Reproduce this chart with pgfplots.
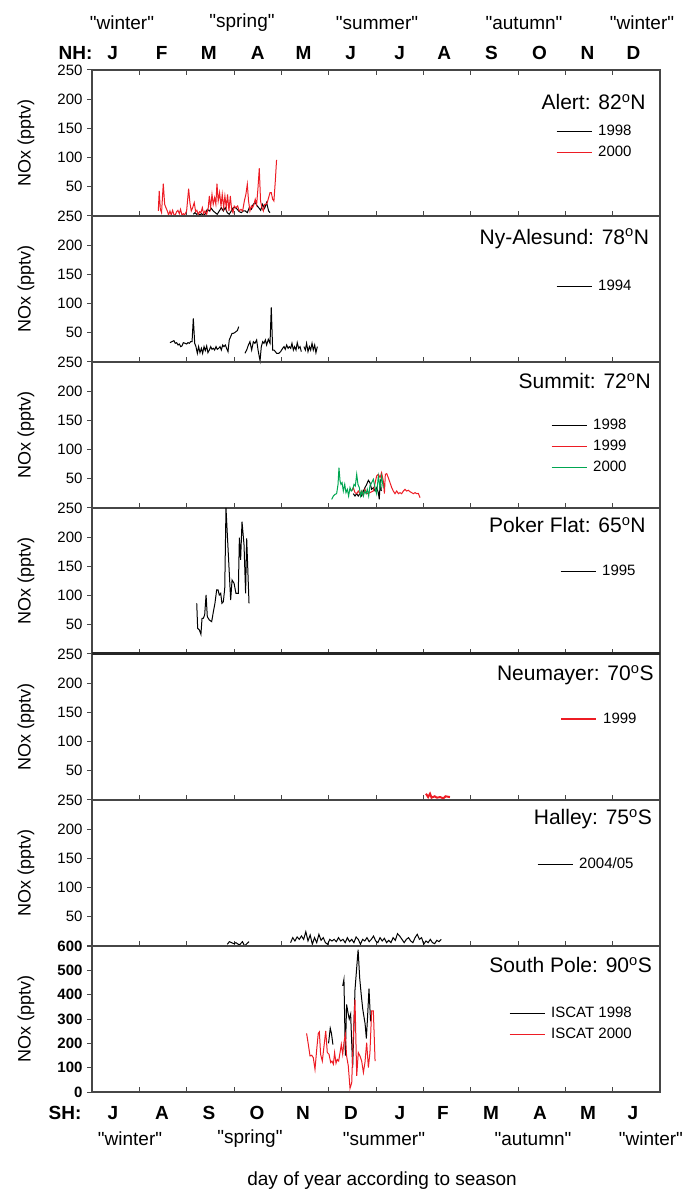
\documentclass[border=0pt]{standalone}
\usepackage{pgfplots}
\pgfplotsset{compat=1.18}
\usepackage{fontspec}
\setmainfont{Liberation Sans}
\definecolor{dred}{RGB}{237,28,36}
\definecolor{dgreen}{RGB}{0,166,81}
\definecolor{frame}{RGB}{70,70,70}
\newcommand{\fs}[1]{\fontsize{#1}{#1}\selectfont}
\newcommand{\q}[1]{\textquotedbl#1\textquotedbl}
\pgfplotsset{
  panel/.style={
    scale only axis, width=568pt, height=146pt,
    xmin=0, xmax=365, ymin=0, ymax=250,
    xtick={30.42,60.83,91.25,121.67,152.08,182.5,212.92,243.33,273.75,304.17,334.58},
    xticklabels={},
    xtick pos=left, ytick pos=left,
    ytick={0,50,100,150,200,250},
    yticklabels={,50,100,150,200,250},
    tick align=inside,
    major tick length=5pt,
    ytick style={xshift=-5pt},
    tick style={frame, line width=1pt},
    axis line style={frame, line width=1.1pt},
    yticklabel style={font=\fs{15}, xshift=-6pt},
    /pgf/number format/assume math mode=true,
    clip=false,
    every axis plot/.append style={line width=1pt},
    legend style={draw=none, fill=none, inner sep=0pt, font=\fs{15}, anchor=north west,
      row sep=5pt, nodes={inner sep=1pt, text height=11pt, text depth=3pt},
      /tikz/every odd column/.append style={column sep=5pt}},
    legend image code/.code={\draw[#1] (0pt,0pt) -- (35pt,0pt);},
    legend cell align=left,
    ylabel={NOx (pptv)},
    ylabel style={at={([xshift=-66pt]rel axis cs:0,0.5)}, anchor=center, font=\fs{18}},
  }
}
\begin{document}
\begin{tikzpicture}
\useasboundingbox (0pt,0pt) rectangle (683pt,1189pt);

% ---------------- Alert
\begin{axis}[panel, at={(92pt,973pt)}, xtick pos=both,
  legend style={at={(rel axis cs:0.8169,0.635)}}]
\addplot[black] coordinates {
(65.1,2.9)(66.2,5.7)(67.2,2.9)(68.3,4)(69.4,1.7)(70.4,4)(71.5,1.7)(72.6,2.9)(74.1,11.4)(75.4,8.6)
(76.7,13.1)(77.9,8.6)(79.2,5.7)(80.5,2.9)(81.8,8.6)(83.1,14.3)(84.4,8.6)(85.6,14.3)(86.9,5.7)(88.2,2.9)
(89.5,8.6)(90.8,14.3)(92.1,14.3)(93.4,11.4)(94.6,7.4)(95.9,5.7)(97.2,8.6)(98.5,8.6)(99.8,5.7)(101.1,14.3)
(102.4,11.4)(103.6,20)(104.9,22.8)(106.2,17.1)(107.1,14.3)(108.4,9.7)(109.6,20)(110.9,13.1)(112.2,22.8)(113.5,8.6)(114.4,5.7)};
\addlegendentry{1998}
\addplot[dred] coordinates {
(42.6,8.6)(43.2,42.8)(43.9,11.4)(44.7,5.7)(45.8,55.4)(46.7,20)(47.5,14.3)(48.4,8.6)(49.2,1.7)(50.1,8.6)
(50.9,1.7)(51.8,9.7)(52.7,1.7)(53.5,1.7)(54.4,7.4)(55.2,9.7)(56.1,4)(56.9,11.4)(57.8,1.7)(58.7,4)
(59.5,1.7)(60.8,8.6)(62.1,46.8)(62.9,22.8)(63.8,8.6)(64.7,14.3)(65.7,22.8)(66.6,7.4)(67.4,9.7)(68.3,2.9)
(69.2,7.4)(70.0,5.7)(70.9,14.3)(71.7,4)(72.6,8.6)(73.7,2.9)(74.7,14.3)(75.4,34.3)(76.2,14.3)(77.1,37.1)
(77.9,20)(78.8,31.4)(79.6,20)(80.3,55.4)(81.1,25.7)(82.0,40)(82.9,17.1)(83.7,37.1)(84.6,14.3)(85.4,34.3)
(86.3,14.3)(87.1,37.1)(88.0,8.6)(88.9,34.3)(89.7,11.4)(90.6,5.7)(91.4,17.1)(92.5,14.3)(93.6,17.1)(94.6,8.6)
(95.7,11.4)(96.8,8.6)(97.9,25.7)(98.9,37.1)(99.8,54.3)(100.6,25.7)(101.5,8.6)(102.4,17.1)(103.2,14.3)(104.1,20)
(104.9,28.6)(105.8,20)(106.6,45.7)(107.5,81.7)(108.3,25.7)(109.2,14.3)(110.1,8.6)(110.9,20)(111.8,20)(112.6,22.8)
(113.5,31.4)(114.4,40)(115.2,40)(116.1,28.6)(116.9,25.7)(117.8,60)(118.6,96)};
\addlegendentry{2000}
\node[anchor=mid east, inner sep=0pt, font=\fs{21}] at (rel axis cs:0.975,0.747) {Alert: 82\textsuperscript{o}N};
% top labels
\node[font=\bfseries\fs{19}] at ([yshift=17pt]rel axis cs:-0.029,1) {NH:};
\node[font=\bfseries\fs{19}] at ([yshift=17pt]rel axis cs:0.0364,1) {J};
\node[font=\bfseries\fs{19}] at ([yshift=17pt]rel axis cs:0.1225,1) {F};
\node[font=\bfseries\fs{19}] at ([yshift=17pt]rel axis cs:0.2056,1) {M};
\node[font=\bfseries\fs{19}] at ([yshift=17pt]rel axis cs:0.2919,1) {A};
\node[font=\bfseries\fs{19}] at ([yshift=17pt]rel axis cs:0.3725,1) {M};
\node[font=\bfseries\fs{19}] at ([yshift=17pt]rel axis cs:0.4556,1) {J};
\node[font=\bfseries\fs{19}] at ([yshift=17pt]rel axis cs:0.5417,1) {J};
\node[font=\bfseries\fs{19}] at ([yshift=17pt]rel axis cs:0.6202,1) {A};
\node[font=\bfseries\fs{19}] at ([yshift=17pt]rel axis cs:0.7033,1) {S};
\node[font=\bfseries\fs{19}] at ([yshift=17pt]rel axis cs:0.7878,1) {O};
\node[font=\bfseries\fs{19}] at ([yshift=17pt]rel axis cs:0.8725,1) {N};
\node[font=\bfseries\fs{19}] at ([yshift=17pt]rel axis cs:0.9533,1) {D};
\node[font=\fs{19}] at ([yshift=47pt]rel axis cs:0.0528,1) {\q{winter}};
\node[font=\fs{19}] at ([yshift=47pt]rel axis cs:0.264,1) {\q{spring}};
\node[font=\fs{19}] at ([yshift=47pt]rel axis cs:0.5018,1) {\q{summer}};
\node[font=\fs{19}] at ([yshift=47pt]rel axis cs:0.7606,1) {\q{autumn}};
\node[font=\fs{19}] at ([yshift=47pt]rel axis cs:0.9683,1) {\q{winter}};
\end{axis}

% ---------------- Ny-Alesund
\begin{axis}[panel, at={(92pt,827pt)},
  legend style={at={(rel axis cs:0.8169,0.575)}}]
\addplot[black] coordinates {
(50.1,33.1)(51.4,34.8)(52.7,36.5)(53.5,32.0)(54.4,33.1)(55.3,29.1)(56.1,30.8)(57.0,26.3)(57.8,27.4)(58.7,33.1)
(59.8,32.0)(60.8,30.8)(61.7,33.1)(62.5,32.0)(63.4,34.8)(64.3,34.8)(65.1,74.8)(66.0,32.0)(66.8,26.3)(67.7,14.8)
(68.5,26.3)(69.4,16.0)(70.3,23.4)(71.1,14.8)(72.0,26.3)(72.8,19.4)(73.7,27.4)(74.5,16.0)(75.4,20.5)(76.3,26.3)
(77.1,21.7)(78.0,23.4)(78.8,20.5)(79.7,26.3)(80.5,21.7)(81.4,23.4)(82.3,26.3)(83.1,20.5)(84.0,29.1)(84.8,26.3)
(85.7,29.1)(86.5,23.4)(87.4,17.7)(88.2,37.7)(89.1,43.4)(90.0,49.1)(90.8,49.1)(91.7,50.2)(92.5,52.0)(93.4,53.7)(94.3,60.5)};
\addlegendentry{1994}
\addplot[black, forget plot] coordinates {
(98.3,14.8)(99.4,20.5)(100.5,29.1)(101.5,34.8)(102.6,20.5)(103.7,34.8)(104.7,32.0)(105.8,37.7)(106.7,20.5)(107.5,9.1)
(108.0,2.3)(108.8,26.3)(109.7,34.8)(110.5,32.0)(111.4,37.7)(112.2,29.1)(113.3,38.8)(114.4,32.0)(115.2,93.6)(116.1,20.5)
(117.0,20.5)(117.8,17.7)(118.7,14.8)(120.0,14.8)(121.2,17.7)(122.5,23.4)(123.4,26.3)(124.2,21.7)(125.1,29.1)(126.0,23.4)
(126.8,26.3)(127.7,23.4)(128.5,32.0)(129.4,20.5)(130.2,26.3)(131.1,20.5)(131.9,33.1)(132.8,23.4)(133.7,26.3)(134.5,17.7)};
\addplot[black, forget plot] coordinates {
(136.2,26.3)(137.1,20.5)(137.9,32.0)(138.8,17.7)(139.7,26.3)(140.5,20.5)(141.4,32.0)(142.2,20.5)(143.1,29.1)(143.9,16.0)(144.8,26.3)};
\node[anchor=mid east, inner sep=0pt, font=\fs{21}] at (rel axis cs:0.981,0.824) {Ny-Alesund: 78\textsuperscript{o}N};
\end{axis}

% ---------------- Summit
\begin{axis}[panel, at={(92pt,681pt)},
  legend style={at={(rel axis cs:0.8081,0.622)}}]
\addplot[black] coordinates {
(167.9,24.5)(169.0,20.5)(170.1,24.5)(171.1,20.5)(172.2,24.5)(173.3,20.5)(174.4,29.1)(175.4,34.8)(176.5,40.5)(177.6,47.4)
(178.6,43.4)(179.7,32.0)(180.8,34.8)(181.9,29.1)(182.9,34.8)(184.0,26.3)(184.6,14.8)(185.3,49.1)(185.9,29.1)};
\addlegendentry{1998}
\addplot[dred] coordinates {
(166.9,29.1)(167.9,34.8)(169.0,26.3)(170.1,24.5)(171.1,29.1)(172.2,24.5)(173.3,29.1)(174.4,22.3)(175.4,32.0)(176.5,24.5)
(178.6,26.3)(180.8,29.1)(182.9,54.8)(184.0,57.7)(185.1,51.9)(186.1,60.5)(187.2,46.2)(187.9,24.5)(188.5,57.7)(189.4,58.8)
(190.4,51.9)(191.5,43.4)(192.6,34.8)(193.6,29.1)(194.7,24.5)(195.8,29.1)(196.9,24.5)(197.9,26.3)(199.0,24.5)(200.1,29.1)
(201.1,32.0)(202.2,29.1)(203.3,30.3)(204.3,28.0)(205.4,26.3)(206.5,24.5)(207.6,26.3)(208.6,24.5)(209.7,25.0)(210.8,17.7)};
\addlegendentry{1999}
\addplot[dgreen] coordinates {
(154.0,14.8)(155.1,20.5)(156.2,23.4)(157.2,24.5)(158.1,40.5)(158.7,69.1)(159.4,46.2)(160.0,40.5)(160.7,43.4)(161.5,29.1)
(162.4,40.5)(163.2,26.3)(164.1,32.0)(164.9,20.5)(165.8,34.8)(166.6,29.1)(167.5,32.0)(168.4,40.5)(169.2,37.7)(170.1,57.7)
(170.9,40.5)(171.8,34.8)(172.6,20.5)(173.5,29.1)(174.4,20.5)(175.2,29.1)(176.1,24.5)(176.9,32.0)(177.8,20.5)(178.6,37.7)
(179.7,43.4)(180.8,49.1)(181.9,34.8)(182.9,24.5)(184.0,54.2)(185.1,34.8)(186.1,54.2)(187.2,34.8)};
\addlegendentry{2000}
\node[anchor=mid east, inner sep=0pt, font=\fs{21}] at (rel axis cs:0.984,0.836) {Summit: 72\textsuperscript{o}N};
\end{axis}

% ---------------- Poker Flat
\begin{axis}[panel, at={(92pt,535pt)},
  legend style={at={(rel axis cs:0.8239,0.622)}}]
\addplot[black] coordinates {
(67.3,86.8)(67.9,44)(69.0,41.1)(70.0,33.7)(70.7,61.1)(71.5,61.1)(72.4,66.8)(73.3,101)(74.1,63.9)(75.4,58.2)
(76.9,55.4)(78.0,72.5)(79.0,86.8)(80.1,109.6)(81.0,109.6)(81.8,101)(82.7,103.9)(83.5,86.8)(84.4,89.6)(85.3,112.4)
(86.1,250)(89.1,92.5)(90.0,126.7)(91.3,121)(92.5,103.9)(94.0,103.9)(94.7,199.2)(95.5,161)(96.4,226.6)(97.7,186.6)
(98.7,103.9)(99.4,198)(100.9,86.8)};
\addlegendentry{1995}
\node[anchor=mid east, inner sep=0pt, font=\fs{21}] at (rel axis cs:0.975,0.849) {Poker Flat: 65\textsuperscript{o}N};
\end{axis}

% ---------------- Neumayer
\begin{axis}[panel, at={(92pt,389pt)},
  legend style={at={(rel axis cs:0.8239,0.608)}}]
\addplot[dred, line width=2pt] coordinates {
(214.6,10.8)(216.0,5)(217.2,10.8)(218.2,4)(220.2,6.3)(221.6,4)(223.8,5)(225.8,2.8)(227.2,6.3)(230.0,5)};
\addlegendentry{1999}
\node[anchor=mid east, inner sep=0pt, font=\fs{21}] at (rel axis cs:0.989,0.836) {Neumayer: 70\textsuperscript{o}S};
\end{axis}

% ---------------- Halley
\begin{axis}[panel, at={(92pt,243pt)},
  legend style={at={(rel axis cs:0.7835,0.615)}}]
\addplot[black] coordinates {
(127.6,5.7)(129.0,14.3)(130.4,8.6)(131.8,15.4)(133.2,11.4)(134.6,17.1)(136.0,11.4)(137.4,24.5)(138.8,8.6)(140.2,18.8)
(141.6,2.9)(143.0,14.3)(144.4,5.7)(145.8,20.0)(147.2,9.7)(148.6,14.3)(150.0,5.7)(151.4,2.9)(152.8,11.4)(154.2,8.6)
(155.6,11.4)(157.0,7.4)(158.4,14.3)(159.8,8.6)(161.3,11.4)(162.7,5.7)(164.1,14.3)(165.5,7.4)(166.9,11.4)(168.3,5.7)
(169.7,15.4)(171.1,11.4)(172.5,2.9)(173.9,11.4)(175.3,8.6)(176.7,14.3)(178.1,7.4)(179.5,11.4)(180.9,17.1)(182.3,8.6)
(183.7,5.7)(185.1,14.3)(186.5,8.6)(187.9,13.1)(189.3,5.7)(190.7,9.7)(192.1,5.7)(193.5,14.3)(194.9,9.7)(196.3,21.1)
(197.7,17.1)(199.2,11.4)(200.6,5.7)(202.0,11.4)(203.4,14.3)(204.8,8.6)(206.2,5.7)(207.6,14.3)(209.0,20.0)(210.4,11.4)
(211.8,14.3)(213.2,2.9)(214.6,8.6)(216.0,5.7)(217.4,11.4)(218.8,5.7)(220.2,4.0)(221.6,9.7)(223.0,7.4)(224.4,11.4)};
\addlegendentry{2004/05}
\addplot[black, forget plot] coordinates {
(86.9,2.9)(88.3,7.4)(89.7,5.7)(91.1,4.0)(92.5,5.7)(94.7,1.7)(96.7,7.4)(98.1,0)(99.5,4.0)(100.9,7.4)};
\node[anchor=mid east, inner sep=0pt, font=\fs{21}] at (rel axis cs:0.986,0.849) {Halley: 75\textsuperscript{o}S};
\end{axis}

% ---------------- South Pole
\begin{axis}[panel, at={(92pt,97pt)}, ymax=600,
  ytick={0,100,200,300,400,500,600},
  yticklabels={0,100,200,300,400,500,600},
  yticklabel style={font=\bfseries\fs{15}},
  legend style={at={(rel axis cs:0.7342,0.595)}}]
\addplot[black] coordinates {
(161.1,436)(161.9,463)(162.8,150)(163.6,360)(164.5,326)(165.3,300)(166.2,320)(167.5,100)(169.0,420)(171.0,585)
(172.0,470)(173.0,400)(174.0,340)(175.5,280)(176.3,220)(177.0,300)(178.0,425)(179.0,290)};
\addlegendentry{ISCAT 1998}
\addplot[dred] coordinates {
(137.9,241)(139.0,196)(140.1,148)(141.2,151)(142.2,141)(143.3,93)(144.4,175)(145.4,241)(146.1,247)(146.9,155)
(148.0,127)(149.1,189)(150.2,251)(151.2,162)(152.3,155)(153.4,121)(154.2,127)(155.1,114)(155.9,162)(156.8,118)
(157.6,134)(158.5,127)(159.4,162)(160.2,196)(161.1,155)(161.9,203)(162.8,237)(163.6,148)(164.7,107)(165.8,15)
(166.9,38)(167.9,230)(169.0,380)(170.1,66)(171.1,162)(172.2,148)(173.3,127)(174.4,80)(175.4,121)(176.5,203)
(177.6,100)(178.6,162)(179.7,333)(180.8,333)(181.9,127)};
\addlegendentry{ISCAT 2000}
\addplot[black, forget plot] coordinates {(152.0,200)(153.1,262)(153.9,240)(154.8,195)};
\node[anchor=mid east, inner sep=0pt, font=\fs{21}] at (rel axis cs:0.986,0.836) {South Pole: 90\textsuperscript{o}S};
% bottom labels
\node[font=\bfseries\fs{19}] at ([yshift=-21pt]rel axis cs:-0.0475,0) {SH:};
\node[font=\bfseries\fs{19}] at ([yshift=-21pt]rel axis cs:0.037,0) {J};
\node[font=\bfseries\fs{19}] at ([yshift=-21pt]rel axis cs:0.1232,0) {A};
\node[font=\bfseries\fs{19}] at ([yshift=-21pt]rel axis cs:0.206,0) {S};
\node[font=\bfseries\fs{19}] at ([yshift=-21pt]rel axis cs:0.2905,0) {O};
\node[font=\bfseries\fs{19}] at ([yshift=-21pt]rel axis cs:0.3715,0) {N};
\node[font=\bfseries\fs{19}] at ([yshift=-21pt]rel axis cs:0.456,0) {D};
\node[font=\bfseries\fs{19}] at ([yshift=-21pt]rel axis cs:0.5423,0) {J};
\node[font=\bfseries\fs{19}] at ([yshift=-21pt]rel axis cs:0.618,0) {F};
\node[font=\bfseries\fs{19}] at ([yshift=-21pt]rel axis cs:0.7025,0) {M};
\node[font=\bfseries\fs{19}] at ([yshift=-21pt]rel axis cs:0.7887,0) {A};
\node[font=\bfseries\fs{19}] at ([yshift=-21pt]rel axis cs:0.8732,0) {M};
\node[font=\bfseries\fs{19}] at ([yshift=-21pt]rel axis cs:0.9525,0) {J};
\node[font=\fs{19}] at ([yshift=-47pt]rel axis cs:0.0669,0) {\q{winter}};
\node[font=\fs{19}] at ([yshift=-47pt]rel axis cs:0.278,0) {\q{spring}};
\node[font=\fs{19}] at ([yshift=-47pt]rel axis cs:0.514,0) {\q{summer}};
\node[font=\fs{19}] at ([yshift=-47pt]rel axis cs:0.7764,0) {\q{autumn}};
\node[font=\fs{19}] at ([yshift=-47pt]rel axis cs:0.984,0) {\q{winter}};
\node[font=\fs{19}] at ([yshift=-89pt]rel axis cs:0.5106,0) {day of year according to season};
\end{axis}

\draw[line width=3pt, black!85] (92pt,535.5pt) -- (660pt,535.5pt);
\end{tikzpicture}
\end{document}
